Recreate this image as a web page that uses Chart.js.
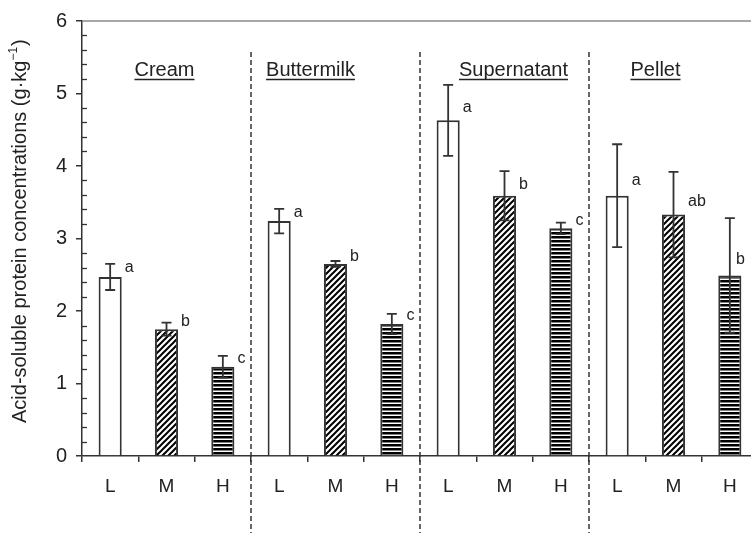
<!DOCTYPE html>
<html lang="en">
<head>
    <meta charset="UTF-8">
    <title>Acid-soluble protein</title>
    <script src="https://cdn.jsdelivr.net/npm/chart.js"></script>
    <style>
        html, body { margin: 0; padding: 0; background: #fff; overflow: hidden; }
        canvas { display: block; }
    </style>
</head>
<body>
    <canvas id="Chart1" width="758" height="538"></canvas>

    <script>
        // data
        const groups = ['Cream', 'Buttermilk', 'Supernatant', 'Pellet'];
        const levels = ['L', 'M', 'H'];
        const values = [2.47, 1.75, 1.23, 3.24, 2.65, 1.82, 4.63, 3.59, 3.14, 3.59, 3.33, 2.49];
        const errors = [0.18, 0.09, 0.15, 0.17, 0.04, 0.14, 0.49, 0.34, 0.08, 0.71, 0.59, 0.79];
        const letters = ['a', 'b', 'c', 'a', 'b', 'c', 'a', 'b', 'c', 'a', 'ab', 'b'];
        const yTicks = [0, 1, 2, 3, 4, 5, 6];

        const labels = [];
        groups.forEach(() => levels.forEach(l => labels.push(l)));

        const ink = '#333';
        const font = '"Liberation Sans", Arial, Helvetica, sans-serif';

        function makePattern(kind) {
            const c = document.createElement('canvas');
            const g = c.getContext('2d');
            if (kind === 'diag') {
                c.width = 6; c.height = 6;
                g.fillStyle = '#fff'; g.fillRect(0, 0, 6, 6);
                g.strokeStyle = '#000'; g.lineWidth = 2;
                g.beginPath();
                g.moveTo(-1, 7); g.lineTo(7, -1);
                g.moveTo(-1, 1); g.lineTo(1, -1);
                g.moveTo(5, 7); g.lineTo(7, 5);
                g.stroke();
            } else {
                c.width = 4; c.height = 4;
                g.fillStyle = '#fff'; g.fillRect(0, 0, 4, 4);
                g.fillStyle = '#000'; g.fillRect(0, 0, 4, 2.5);
            }
            return document.getElementById('Chart1').getContext('2d').createPattern(c, 'repeat');
        }

        const fills = [ '#ffffff', makePattern('diag'), makePattern('horiz') ];
        const barColors = labels.map((_, i) => fills[i % 3]);

        const decorations = {
            id: 'decorations',
            afterDatasetsDraw(chart) {
                const ctx = chart.ctx;
                const x = chart.scales.x, y = chart.scales.y;
                const area = chart.chartArea;
                const bars = chart.getDatasetMeta(0).data;
                ctx.save();

                // top frame line
                ctx.strokeStyle = '#8a8a8a';
                ctx.lineWidth = 1.5;
                ctx.beginPath();
                ctx.moveTo(area.left, area.top);
                ctx.lineTo(chart.width, area.top);
                ctx.stroke();

                // minor ticks on y, inside the plot
                ctx.strokeStyle = ink;
                ctx.lineWidth = 1.3;
                for (let v = 0.2; v < 6; v += 0.2) {
                    if (Math.abs(v - Math.round(v)) < 0.01) continue;
                    const py = Math.round(y.getPixelForValue(v)) + 0.5;
                    ctx.beginPath();
                    ctx.moveTo(area.left, py);
                    ctx.lineTo(area.left + 5, py);
                    ctx.stroke();
                }

                // dashed separators between groups
                ctx.setLineDash([5, 3]);
                ctx.lineWidth = 1.5;
                for (let gI = 1; gI < groups.length; gI++) {
                    const px = (x.getPixelForValue(gI * 3 - 1) + x.getPixelForValue(gI * 3)) / 2;
                    ctx.beginPath();
                    ctx.moveTo(px, 52);
                    ctx.lineTo(px, 533);
                    ctx.stroke();
                }
                ctx.setLineDash([]);

                // error bars
                ctx.lineWidth = 1.8;
                bars.forEach((b, i) => {
                    const hi = y.getPixelForValue(values[i] + errors[i]);
                    const lo = y.getPixelForValue(values[i] - errors[i]);
                    ctx.beginPath();
                    ctx.moveTo(b.x, hi); ctx.lineTo(b.x, lo);
                    ctx.moveTo(b.x - 5, hi); ctx.lineTo(b.x + 5, hi);
                    ctx.moveTo(b.x - 5, lo); ctx.lineTo(b.x + 5, lo);
                    ctx.stroke();
                });

                // significance letters
                ctx.fillStyle = '#222';
                ctx.font = '16px ' + font;
                ctx.textBaseline = 'middle';
                ctx.textAlign = 'left';
                bars.forEach((b, i) => {
                    const top = y.getPixelForValue(values[i]);
                    const span = top - y.getPixelForValue(values[i] + errors[i]);
                    const cy = top - (7 + 0.15 * span);
                    const w = ctx.measureText(letters[i]).width;
                    const lx = Math.min(b.x + b.width / 2 + 3, 745 - w);
                    ctx.fillText(letters[i], lx, cy);
                });

                // group titles, underlined
                const shift = [-2, -25, 9, -18];
                ctx.font = '20px ' + font;
                ctx.textBaseline = 'alphabetic';
                ctx.textAlign = 'center';
                ctx.lineWidth = 1.3;
                ctx.strokeStyle = '#222';
                groups.forEach((name, gI) => {
                    const cx = x.getPixelForValue(gI * 3 + 1) + shift[gI];
                    const w = ctx.measureText(name).width;
                    ctx.fillText(name, cx, 76);
                    ctx.beginPath();
                    ctx.moveTo(cx - w / 2, 79.5);
                    ctx.lineTo(cx + w / 2, 79.5);
                    ctx.stroke();
                });

                // y axis title with superscript
                ctx.translate(26, 423);
                ctx.rotate(-Math.PI / 2);
                ctx.textAlign = 'left';
                ctx.font = '20px ' + font;
                const main = 'Acid-soluble protein concentrations (g\u00b7kg';
                ctx.fillText(main, 0, 0);
                let off = ctx.measureText(main).width;
                ctx.font = '12px ' + font;
                ctx.fillText('\u22121', off, -9);
                off += ctx.measureText('\u22121').width;
                ctx.font = '20px ' + font;
                ctx.fillText(')', off + 1, 0);

                ctx.restore();
            }
        };

        const chart = new Chart(document.getElementById('Chart1').getContext('2d'), {
            type: 'bar',
            data: {
                labels: labels,
                datasets: [{
                    data: values,
                    backgroundColor: barColors,
                    borderColor: ink,
                    borderWidth: 2,
                    barPercentage: 0.41,
                    categoryPercentage: 1
                }]
            },
            options: {
                responsive: false,
                animation: false,
                devicePixelRatio: 1,
                layout: { padding: { top: 13, right: 0, left: 0, bottom: 0 } },
                plugins: {
                    legend: { display: false },
                    tooltip: { enabled: false },
                    title: { display: false }
                },
                scales: {
                    x: {
                        afterFit: s => { s.height = 82; },
                        grid: { offset: true, drawOnChartArea: false, tickLength: 6, color: ink, lineWidth: 1.5 },
                        border: { color: ink, width: 1.5 },
                        ticks: { color: '#222', font: { size: 19, family: font }, padding: 13, maxRotation: 0 }
                    },
                    y: {
                        min: 0,
                        max: 6,
                        afterFit: s => { s.width = 82; },
                        afterBuildTicks: s => { s.ticks = yTicks.map(v => ({ value: v })); },
                        grid: { drawOnChartArea: false, tickLength: 6, color: ink, lineWidth: 1.5 },
                        border: { color: ink, width: 1.5 },
                        ticks: { color: '#222', font: { size: 20, family: font }, padding: 9 }
                    }
                }
            },
            plugins: [decorations]
        });
    </script>
</body>
</html>
